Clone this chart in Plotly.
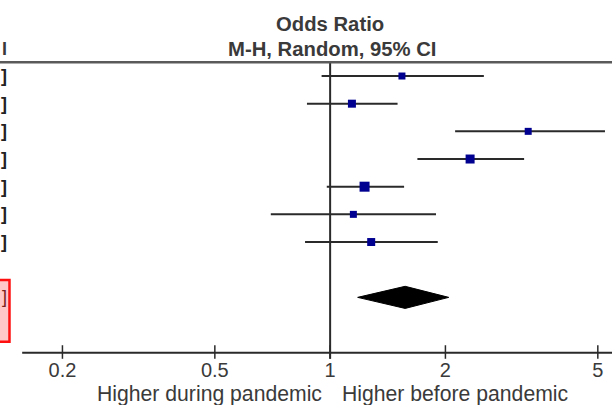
import math
import plotly.graph_objects as go

# ---- data ----
study_rows = [1, 2, 3, 4, 5, 6, 7]
odds_ratio = [1.54, 1.14, 3.29, 2.32, 1.23, 1.15, 1.28]
ci_low = [0.95, 0.87, 2.12, 1.69, 0.98, 0.70, 0.86]
ci_high = [2.52, 1.50, 5.22, 3.21, 1.56, 1.89, 1.91]
weights = [7, 8, 7, 9, 10, 7, 8]

total_row = 9
total_or = 1.57
total_low = 1.18
total_high = 2.04

tick_vals = [0.2, 0.5, 1, 2, 5]
tick_text = ["0.2", "0.5", "1", "2", "5"]
left_label = "Higher during pandemic"
right_label = "Higher before pandemic"
header1 = "Odds Ratio"
header2 = "M-H, Random, 95% CI"

axis_row = 11
header_row = 0.5
axis_start = 0.157
axis_end = 6.5
null_value = 1

TEXT = "#3a3a3a"
LINE = "#2a2a2a"
FONT = "Liberation Sans, Arial, sans-serif"

fig = go.Figure()

# CI lines
for r, lo, hi in zip(study_rows, ci_low, ci_high):
    fig.add_trace(go.Scatter(x=[lo, hi], y=[r, r], mode="lines",
                             line=dict(color=LINE, width=2), hoverinfo="skip",
                             showlegend=False))
# point estimates
fig.add_trace(go.Scatter(x=odds_ratio, y=study_rows, mode="markers",
                         marker=dict(symbol="square", size=weights, color="#000090",
                                     opacity=1, line=dict(width=0)),
                         showlegend=False))
# diamond
h = 0.4
fig.add_trace(go.Scatter(x=[total_low, total_or, total_high, total_or, total_low],
                         y=[total_row, total_row - h, total_row, total_row + h, total_row],
                         mode="lines", fill="toself", fillcolor="black",
                         line=dict(color="black", width=1), showlegend=False))

# axis line
fig.add_trace(go.Scatter(x=[axis_start, axis_end], y=[axis_row, axis_row], mode="lines",
                         line=dict(color=LINE, width=2), showlegend=False))
# ticks
for tv in tick_vals:
    fig.add_trace(go.Scatter(x=[tv, tv], y=[axis_row - 0.27, axis_row + 0.22], mode="lines",
                             line=dict(color=LINE, width=1.5), showlegend=False))
# tick labels
fig.add_trace(go.Scatter(x=tick_vals, y=[axis_row + 0.68] * len(tick_vals), mode="text",
                         text=tick_text, textposition="middle center",
                         textfont=dict(family=FONT, size=20, color=TEXT), showlegend=False))

# reference vertical line at OR=1
fig.add_trace(go.Scatter(x=[null_value, null_value], y=[header_row, axis_row + 0.22],
                         mode="lines", line=dict(color=LINE, width=2), showlegend=False))

shapes = [
    dict(type="line", xref="paper", yref="y", x0=0, x1=1, y0=header_row, y1=header_row,
         line=dict(color="#5a5a5a", width=2.5)),
    dict(type="rect", xref="paper", yref="y", x0=-0.01, x1=0.0155, y0=8.37, y1=10.6,
         line=dict(color="#ff1010", width=2.5), fillcolor="rgba(255,175,175,0.7)"),
]

null_log = math.log10(null_value)
annotations = [
    dict(text="<b>" + header1 + "</b>", x=0.539, xref="paper", y=-0.88, yref="y",
         showarrow=False, font=dict(family=FONT, size=20.3, color=TEXT),
         xanchor="center", yanchor="middle"),
    dict(text="<b>" + header2 + "</b>", x=0.5425, xref="paper", y=0.03, yref="y",
         showarrow=False, font=dict(family=FONT, size=20.3, color=TEXT),
         xanchor="center", yanchor="middle"),
    dict(text="<b>I</b>", x=0.0, xref="paper", y=0.03, yref="y", showarrow=False,
         font=dict(family=FONT, size=18, color=TEXT), xanchor="right", yanchor="middle",
         xshift=9),
    dict(text=left_label, x=null_log, xref="x", y=axis_row + 1.5, yref="y",
         showarrow=False, font=dict(family=FONT, size=21.2, color=TEXT),
         xanchor="right", yanchor="middle", xshift=-6),
    dict(text=right_label, x=null_log, xref="x", y=axis_row + 1.5, yref="y",
         showarrow=False, font=dict(family=FONT, size=21.2, color=TEXT),
         xanchor="left", yanchor="middle", xshift=10),
]
for r in study_rows:
    annotations.append(dict(text="<b>]</b>", x=0.0, xref="paper", y=r, yref="y",
                            showarrow=False, font=dict(family=FONT, size=18, color="#222"),
                            xanchor="right", yanchor="middle", xshift=9))
annotations.append(dict(text="]", x=0.0, xref="paper", y=total_row, yref="y", showarrow=False,
                        font=dict(family=FONT, size=18, color="#7a2020"),
                        xanchor="right", yanchor="middle", xshift=9))

fig.update_layout(
    width=612, height=405,
    margin=dict(l=0, r=0, t=0, b=0),
    paper_bgcolor="white", plot_bgcolor="white",
    xaxis=dict(type="log", range=[-0.862, 0.736], visible=False, fixedrange=True),
    yaxis=dict(range=[12.89, -1.747], visible=False, fixedrange=True),
    shapes=shapes, annotations=annotations,
    font=dict(family=FONT, color=TEXT),
)

fig.write_html("out.html", config={"displayModeBar": False},
               post_script="document.body.style.margin='0';document.body.style.overflow='hidden';")
